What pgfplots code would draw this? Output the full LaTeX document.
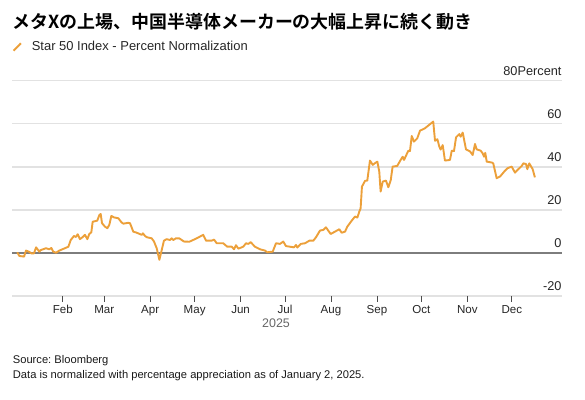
\documentclass[border=0pt]{standalone}
\usepackage{pgfplots}
\pgfplotsset{compat=1.18}
\usepackage{fontspec}
\setmainfont{Liberation Sans}
\newfontfamily\cjk{Noto Sans CJK JP}[BoldFont={Noto Sans CJK JP Bold}]
\definecolor{lineorange}{RGB}{236,160,58}
\definecolor{gridgray}{RGB}{226,226,226}
\definecolor{zerogray}{RGB}{125,125,125}
\frenchspacing
\begin{document}
\begin{tikzpicture}[x=1bp,y=1bp]
\path[use as bounding box] (0,0) rectangle (585,399);
\node[anchor=base west, inner sep=0pt, font=\cjk\bfseries\fontsize{18}{20}\selectfont] at (12.5,371) {メタXの上場、中国半導体メーカーの大幅上昇に続く動き};
\begin{axis}[
  at={(12bp,103bp)}, anchor=south west,
  width=550bp, height=215.3bp, scale only axis,
  xmin=-3.24, xmax=367.9, ymin=-20, ymax=80,
  axis line style={draw=none},
  tick align=outside,
  xtick pos=bottom,
  xtick={31,59,90,120,151,181,212,243,273,304,334},
  xticklabels={Feb,Mar,Apr,May,Jun,Jul,Aug,Sep,Oct,Nov,Dec},
  xtick style={draw=black!70, line width=0.8bp},
  major tick length=5.7bp,
  xticklabel style={font=\fontsize{11.6}{13}\selectfont, text=black!85},
  ytick={-20,0,20,40,60,80},
  yticklabels={-20,0,20,40,60,80Percent},
  ytick style={draw=none},
  yticklabel pos=right,
  yticklabel style={anchor=south east, inner sep=0pt, xshift=-6bp, yshift=5bp, font=\fontsize{12.8}{14}\selectfont, text=black!85},
  ymajorgrids,
  grid style={gridgray, line width=1.4bp},
  extra y ticks={0},
  extra y tick labels={},
  extra y tick style={grid style={zerogray, line width=1.6bp}},
  clip=false,
  legend style={at={(0.001,1.1565)}, anchor=west, draw=none, fill=none, inner sep=0pt, outer sep=0pt,
    font=\fontsize{13}{15}\selectfont, text=black!85},
  legend cell align=left,
  legend image code/.code={\draw[#1, line width=2bp] (0.7bp,-3.7bp) -- (8bp,3.7bp);},
]
\addplot[lineorange, line width=1.9bp, line join=round] coordinates {
(0.3,0.3) (1.7,-1.4) (4.9,-1.7) (6.2,1.1) (8.4,0.5) (9.8,-0.2) (11.6,-0.2) (13.0,2.6)
(15.2,0.6) (16.1,1.3) (19.7,2.2) (21.9,1.7) (23.3,2.3) (24.6,0.6) (26.5,0.1) (28.7,1.1)
(32.5,2.2) (34.8,2.9) (36.4,6.0) (38.6,7.9) (39.9,7.4) (41.1,8.7) (42.6,6.4) (44.5,7.4)
(46.0,8.4) (47.6,6.4) (48.9,8.8) (50.3,9.6) (51.2,14.5) (54.3,15.0) (55.7,17.6) (56.6,18.1)
(57.5,13.8) (59.5,12.2) (61.1,11.5) (62.4,13.0) (63.8,17.2) (65.6,16.5) (68.5,16.1) (70.8,14.1)
(71.9,13.6) (75.2,14.0) (76.4,13.8) (78.6,9.9) (80.9,9.4) (84.3,8.4) (85.1,9.1) (86.5,7.9)
(87.7,7.3) (91.0,6.8) (92.6,5.3) (94.4,2.2) (96.2,-3.2) (97.8,1.4) (99.3,5.7) (101.1,6.4)
(103.4,6.0) (104.5,6.8) (105.6,6.0) (107.4,6.8) (109.6,6.8) (111.3,6.0) (112.8,5.3) (116.4,5.2)
(118.0,5.7) (121.4,6.8) (125.8,8.4) (127.7,5.7) (131.5,5.7) (133.1,6.2) (134.9,4.5) (139.3,4.5)
(142.0,2.9) (145.0,2.9) (146.6,1.7) (147.9,3.6) (149.5,2.0) (152.8,2.9) (154.7,4.5) (156.2,4.2)
(157.8,5.0) (160.7,2.9) (164.1,1.7) (167.5,1.1) (169.0,0.3) (172.7,0.6) (174.9,4.5) (177.6,4.2)
(179.8,5.3) (181.6,3.2) (184.3,2.9) (187.0,2.6) (188.4,3.7) (189.3,2.5) (191.6,4.2) (194.5,4.5)
(197.4,5.7) (200.1,5.7) (201.9,7.3) (204.6,10.4) (206.8,10.7) (208.6,11.9) (211.8,8.8) (214.7,9.9)
(217.6,11.0) (219.2,9.4) (221.5,9.9) (223.0,12.2) (226.0,15.0) (228.2,16.9) (229.8,16.4) (231.1,19.2)
(232.0,20.7) (232.9,30.8) (235.0,33.5) (236.5,33.6) (238.3,42.9) (240.2,40.9) (241.7,41.7) (243.3,42.4)
(244.6,37.7) (245.5,28.5) (246.9,33.1) (249.1,33.6) (250.7,30.5) (252.3,33.7) (253.6,40.1) (256.7,40.4)
(259.0,43.2) (260.4,44.7) (261.3,43.2) (264.2,47.5) (265.3,47.3) (266.5,54.3) (268.0,51.7) (270.2,53.2)
(272.1,56.8) (275.4,57.9) (281.0,61.0) (282.2,52.1) (283.8,52.8) (285.1,49.4) (286.0,48.0) (287.4,50.1)
(288.9,42.9) (292.3,43.2) (293.5,47.5) (295.0,47.3) (296.4,53.7) (298.6,55.2) (299.5,54.0) (300.9,55.9)
(303.1,48.1) (305.8,47.2) (307.6,45.5) (309.2,50.6) (310.3,48.1) (313.0,47.5) (314.4,46.2) (315.3,44.7)
(316.1,46.5) (317.1,42.4) (320.5,42.0) (321.5,41.6) (323.8,34.7) (326.1,35.5) (328.8,37.7) (331.0,39.3)
(333.9,40.1) (336.2,37.3) (337.7,38.4) (340.7,40.4) (341.8,41.6) (343.6,41.3) (344.5,38.9) (345.8,41.6)
(348.1,38.9) (349.6,35.1)
};
\addlegendentry{\hspace{8bp}Star 50 Index - Percent Normalization}
\end{axis}
\node[anchor=center, font=\fontsize{12.5}{14}\selectfont, text=black!60] at (276,75.7) {2025};
\node[anchor=base west, inner sep=0pt, font=\fontsize{11.2}{13}\selectfont, text=black!90] at (12.7,35.5) {Source: Bloomberg};
\node[anchor=base west, inner sep=0pt, font=\fontsize{11.2}{13}\selectfont, text=black!90] at (12.7,21) {Data is normalized with percentage appreciation as of January 2, 2025.};
\end{tikzpicture}
\end{document}
